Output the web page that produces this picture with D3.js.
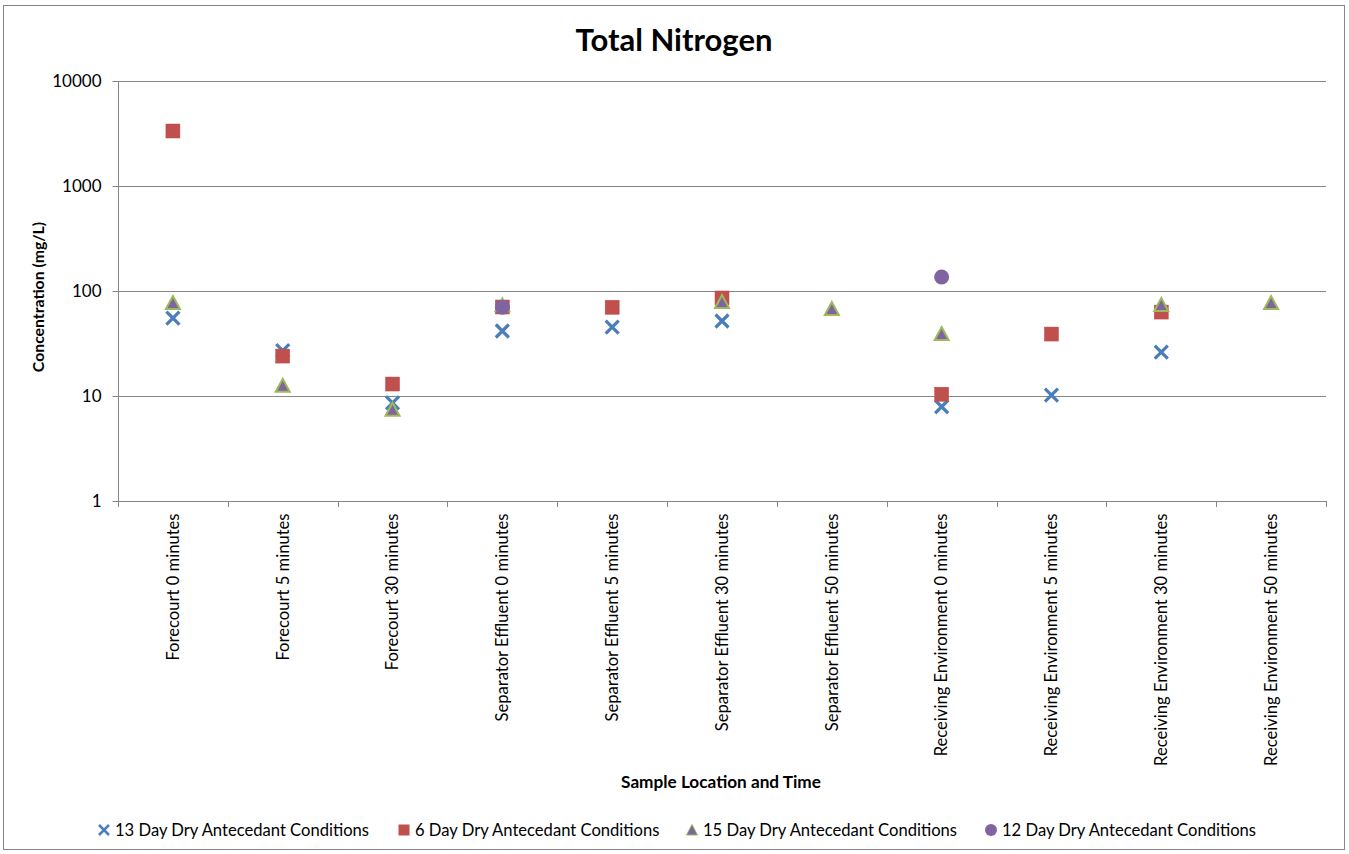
<!DOCTYPE html>
<html><head><meta charset="utf-8">
<script src="https://cdn.jsdelivr.net/npm/d3@7/dist/d3.min.js"></script>
<style>body{margin:0;background:#fff;} svg{display:block;font-family:Lato,"Open Sans",sans-serif;}</style>
</head><body>
<svg id="c" width="1349" height="854"></svg>
<script>
const categories = ["Forecourt 0 minutes","Forecourt 5 minutes","Forecourt 30 minutes","Separator Effluent 0 minutes","Separator Effluent 5 minutes","Separator Effluent 30 minutes","Separator Effluent 50 minutes","Receiving Environment 0 minutes","Receiving Environment 5 minutes","Receiving Environment 30 minutes","Receiving Environment 50 minutes"];
const seriesNames = ["13 Day Dry Antecedant Conditions","6 Day Dry Antecedant Conditions","15 Day Dry Antecedant Conditions","12 Day Dry Antecedant Conditions"];
const day13 = [55.3, 27.0, 8.6, 41.6, 45.4, 51.8, null, 7.9, 10.2, 26.2, null];
const day6  = [3340, 24.0, 13.0, 70.4, 70.0, 85.8, null, 10.4, 38.9, 63.0, null];
const day15 = [76.8, 12.5, 7.4, 73.0, null, 78.6, 67.4, 38.9, null, 73.5, 76.8];
const day12 = [null, null, null, 70.0, null, null, null, 136, null, null, null];
const yTicks = [1, 10, 100, 1000, 10000];

const svg = d3.select("#c");
svg.append("rect").attr("x",3.5).attr("y",5.5).attr("width",1341).attr("height",844)
  .attr("fill","#fff").attr("stroke","#868686").attr("stroke-width",1);

const L=118, R=1326, T=81, B=501;
const x = d3.scaleBand().domain(categories).range([L,R]);
const y = d3.scaleLog().domain([1,10000]).range([B,T]);

// gridlines
svg.append("g").selectAll("line").data(yTicks.slice(1)).join("line")
  .attr("x1",L).attr("x2",R).attr("y1",d=>Math.round(y(d))+0.5).attr("y2",d=>Math.round(y(d))+0.5)
  .attr("stroke","#868686").attr("stroke-width",1);

// y axis
const ya = svg.append("g").attr("transform",`translate(${L+0.5},0)`)
  .call(d3.axisLeft(y).tickValues(yTicks).tickFormat(d3.format("d")).tickSize(6).tickPadding(11));
ya.select(".domain").attr("stroke","#868686").attr("d",`M0,${T}V${B}`);
ya.selectAll(".tick line").attr("stroke","#868686");
ya.selectAll(".tick text").attr("font-size","17px").attr("fill","#000").attr("font-family","Lato, sans-serif");

// x axis
const xa = svg.append("g").attr("transform",`translate(0,${B+0.5})`)
  .call(d3.axisBottom(x).tickSize(0).tickPadding(0));
xa.select(".domain").attr("stroke","#868686").attr("d",`M${L},0H${R}`);
xa.selectAll(".tick line").remove();
xa.selectAll(".tick text").attr("font-size","16.6px").attr("fill","#000").attr("font-family","Lato, sans-serif")
  .attr("transform","rotate(-90)").attr("text-anchor","end").attr("dy","0.35em").attr("x",-12).attr("y",0);
// boundary ticks
const bounds = categories.map(c=>x(c)).concat([R]);
svg.append("g").selectAll("line").data(bounds).join("line")
  .attr("x1",d=>Math.round(d)+0.5).attr("x2",d=>Math.round(d)+0.5).attr("y1",B).attr("y2",B+6)
  .attr("stroke","#868686");

const cx = i => x(categories[i]) + x.bandwidth()/2;
const pts = arr => arr.map((v,i)=>({v,i})).filter(d=>d.v!=null);

// 13 day: X
const gX = svg.append("g");
pts(day13).forEach(d=>{
  const px=cx(d.i), py=y(d.v), s=6.5;
  gX.append("path").attr("d",`M${px-s},${py-s}L${px+s},${py+s}M${px-s},${py+s}L${px+s},${py-s}`)
    .attr("stroke","#4A7EBB").attr("stroke-width",3.2).attr("fill","none");
});
// 6 day: squares
svg.append("g").selectAll("rect").data(pts(day6)).join("rect")
  .attr("x",d=>cx(d.i)-7).attr("y",d=>y(d.v)-7).attr("width",14).attr("height",14)
  .attr("fill","#C0504D").attr("stroke","#BE4B48").attr("stroke-width",0.5);
// 15 day: triangles
svg.append("g").selectAll("path").data(pts(day15)).join("path")
  .attr("d",d=>{const px=cx(d.i),py=y(d.v);return `M${px},${py-7}L${px+7},${py+6}L${px-7},${py+6}Z`;})
  .attr("fill","#8064A2").attr("stroke","#9BBB59").attr("stroke-width",2);
// 12 day: circles
svg.append("g").selectAll("circle").data(pts(day12)).join("circle")
  .attr("cx",d=>cx(d.i)).attr("cy",d=>y(d.v)).attr("r",7.5).attr("fill","#8064A2");

// title & axis labels
svg.append("text").attr("x",674).attr("y",51).attr("text-anchor","middle")
  .attr("font-size","31px").attr("font-weight","bold").text("Total Nitrogen");
svg.append("text").attr("transform","translate(44,297) rotate(-90)").attr("text-anchor","middle")
  .attr("font-size","15.8px").attr("font-weight","bold").text("Concentration (mg/L)");
svg.append("text").attr("x",721).attr("y",788).attr("text-anchor","middle")
  .attr("font-size","17.2px").attr("font-weight","bold").text("Sample Location and Time");

// legend
const legX = [104, 404, 692, 991];
const lg = svg.append("g");
seriesNames.forEach((n,k)=>{
  const px=legX[k], py=830;
  if(k===0) lg.append("path").attr("d",`M${px-5},${py-5}L${px+5},${py+5}M${px-5},${py+5}L${px+5},${py-5}`).attr("stroke","#4A7EBB").attr("stroke-width",2.5);
  if(k===1) lg.append("rect").attr("x",px-5.5).attr("y",py-5.5).attr("width",11).attr("height",11).attr("fill","#C0504D");
  if(k===2) lg.append("path").attr("d",`M${px},${py-5.5}L${px+5.5},${py+5}L${px-5.5},${py+5}Z`).attr("fill","#8064A2").attr("stroke","#9BBB59").attr("stroke-width",1);
  if(k===3) lg.append("circle").attr("cx",px).attr("cy",py).attr("r",6).attr("fill","#8064A2");
  lg.append("text").attr("x",px+11).attr("y",py+5.5).attr("font-size","16.6px").text(n);
});
</script>
</body></html>
